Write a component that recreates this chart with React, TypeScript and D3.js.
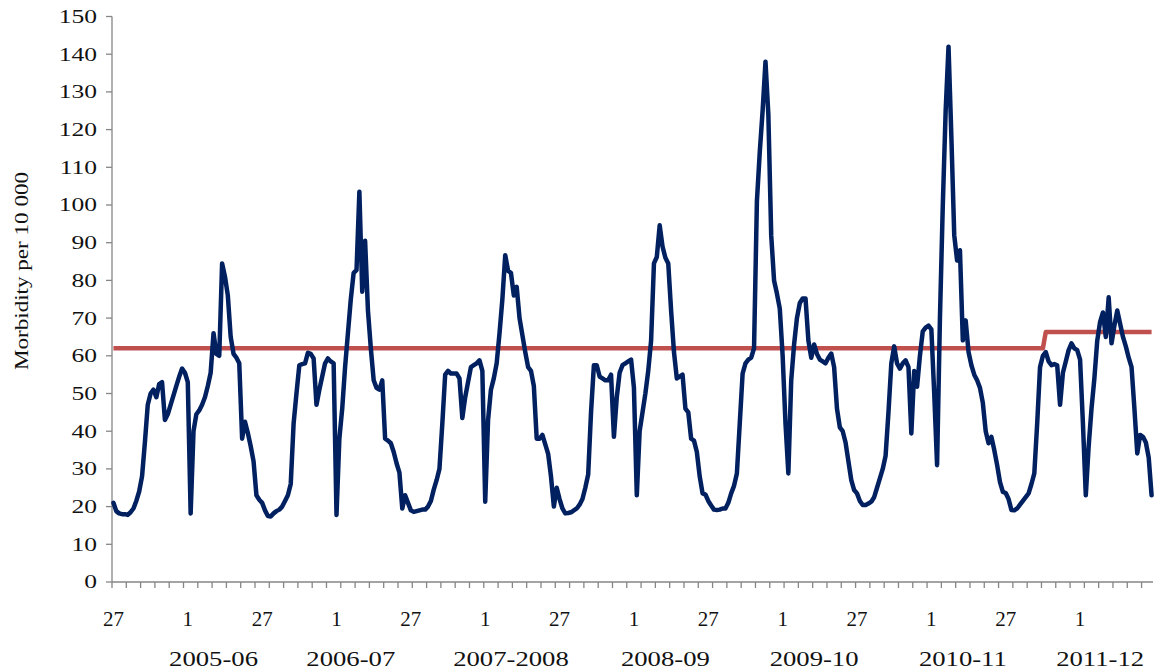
import React from 'react';
import * as d3 from 'd3';

// Weekly morbidity per 10 000 (week 27 of 2005 through week 26 of 2012)
const morbidity: number[] = [
  21, 18.8, 18.2, 18, 18, 17.8, 18.5, 19.5, 21.5, 24,
  28, 37, 47, 50, 51, 49, 52.5, 53, 43, 44.5,
  47, 49.5, 52, 54.5, 56.6, 55.5, 53, 18.2, 40, 44.5,
  45.5, 47, 49, 52, 55.5, 66, 60.5, 60, 84.5, 81,
  76, 65, 60.5, 59.5, 58, 38, 42.5, 39.5, 36, 32,
  23, 21.8, 21, 19, 17.5, 17.4, 18.2, 18.8, 19.2, 20,
  21.5, 23, 26, 42, 50, 57.5, 57.8, 58, 60.8, 60.5,
  59.3, 47, 51, 54.5, 58, 59.3, 58.5, 58, 17.8, 38,
  46, 57, 66, 75, 82, 82.7, 103.5, 77, 90.5, 72,
  62, 53.5, 51.5, 51, 53.5, 38, 37.5, 36.8, 34.5, 31.5,
  29, 19.5, 23, 21, 19, 18.6, 18.8, 19, 19.2, 19.2,
  20, 21.5, 24.5, 27, 30, 42, 55, 56, 55.3, 55.3,
  55.3, 54, 43.5, 49, 53, 57, 57.5, 58, 58.8, 56,
  21.3, 43, 51, 54, 58, 66, 75, 86.7, 82.5, 82,
  76, 78.3, 70, 65.5, 61, 57, 56, 52, 38, 38,
  39, 36.5, 34, 28, 20, 25, 22, 19.5, 18.2, 18.3,
  18.5, 19, 19.5, 20.5, 22, 25, 28.5, 45, 57.5, 57.5,
  54.5, 54, 53.5, 53.5, 55, 38.5, 49, 55.5, 57.5, 58,
  58.5, 59, 51.5, 23, 40, 45, 50, 56, 64, 84.5,
  86.2, 94.6, 89, 86, 84.5, 72, 61, 54, 54.5, 55,
  46, 45, 38, 37.5, 34.5, 28, 23.5, 23.2, 21.5, 20.3,
  19.2, 19.1, 19.2, 19.5, 19.5, 21, 23.5, 25.5, 28.8, 42,
  55.3, 58, 59, 59.5, 62, 101, 114, 125, 138, 124,
  92, 80, 76.5, 72.5, 60, 42, 28.8, 53.5, 63, 70,
  74, 75.2, 75.2, 64, 59.5, 63, 60.5, 59, 58.5, 58,
  59.5, 60.6, 57, 46, 41, 40, 37, 32, 27, 24.4,
  23.5, 21.5, 20.4, 20.4, 20.8, 21.3, 22.5, 25, 27.5, 30,
  33.5, 45, 58, 62.5, 58, 56.6, 58, 58.8, 57, 39.4,
  56, 51.8, 60, 66.5, 67.5, 68, 67, 50, 31, 70,
  100, 125, 142, 118, 92, 85.3, 88, 64.1, 69.4, 61,
  57.5, 55, 53.5, 51.5, 47.5, 40, 36.8, 38.5, 35, 31,
  26.5, 23.9, 23.6, 22, 19.1, 19, 19.5, 20.5, 21.5, 22.5,
  23.5, 26, 28.8, 42, 57, 60, 61, 58.5, 57.5, 57.8,
  57.5, 47, 55.5, 58.5, 61.5, 63.3, 62, 61.5, 59, 42,
  23, 36, 46, 54, 64, 69, 71.5, 65, 75.5, 63.3,
  68, 72, 68.5, 65, 62.5, 59.5, 57, 46, 34.1, 39,
  38.5, 37, 33, 23,
];

// Epidemic threshold: value applies from the given week index onward
const thresholdFromWeek: number[] = [0, 326];
const thresholdValues: number[] = [62, 66.3];

const yTicks: number[] = [0, 10, 20, 30, 40, 50, 60, 70, 80, 90, 100, 110, 120, 130, 140, 150];

// Week-number labels shown every 26 weeks on the category axis
const weekTickLabels: string[] = ['27', '1', '27', '1', '27', '1', '27', '1', '27', '1', '27', '1', '27', '1'];
const weekLabelInterval = 26;
const minorTickInterval = 5;

const seasonLabels: string[] = ['2005-06', '2006-07', '2007-2008', '2008-09', '2009-10', '2010-11', '2011-12'];
const seasonLabelWeek: number[] = [35, 83, 139, 193, 245, 297, 345];

const W = 1154;
const H = 672;
const FONT = '"Liberation Serif", "Times New Roman", serif';

export default function App() {
  const n = morbidity.length;
  const x = d3.scaleLinear().domain([0, n]).range([112, 1153]);
  const y = d3.scaleLinear().domain([0, 150]).range([582, 16.5]);
  const cx = (i: number) => x(i + 0.5);

  const line = d3
    .line<number>()
    .x((_, i) => cx(i))
    .y((d) => y(d));

  const threshold = morbidity.map((_, i) => {
    let v = thresholdValues[0];
    thresholdFromWeek.forEach((w, k) => {
      if (i >= w) v = thresholdValues[k];
    });
    return v;
  });

  const minorTicks = d3.range(0, n + 1, minorTickInterval);

  return (
    <svg
      width={W}
      height={H}
      style={{ position: 'absolute', left: 0, top: 0, background: '#fff' }}
      fontFamily={FONT}
    >
      {/* y axis */}
      <line x1={112} x2={112} y1={y(150)} y2={y(0)} stroke="#868686" strokeWidth={1.3} />
      {yTicks.map((t) => (
        <g key={t}>
          <line x1={106} x2={112} y1={y(t)} y2={y(t)} stroke="#868686" strokeWidth={1.3} />
          <text
            transform={`translate(97, ${y(t)}) scale(1.38, 1)`}
            dy="0.35em"
            textAnchor="end"
            fontSize={18.5}
            fill="#111"
          >
            {t}
          </text>
        </g>
      ))}
      <text
        transform={`translate(28, ${271}) rotate(-90)`}
        textAnchor="middle"
        fontSize={18.5}
        textLength={198}
        lengthAdjust="spacingAndGlyphs"
        fill="#111"
      >
        Morbidity per 10 000
      </text>

      {/* x axis */}
      <line x1={112} x2={1153} y1={y(0)} y2={y(0)} stroke="#868686" strokeWidth={1.3} />
      {minorTicks.map((t) => (
        <line key={t} x1={x(t)} x2={x(t)} y1={y(0)} y2={y(0) + 6} stroke="#868686" strokeWidth={1.3} />
      ))}
      {weekTickLabels.map((lab, k) => (
        <text key={k} x={cx(k * weekLabelInterval)} y={626} textAnchor="middle" fontSize={21} fill="#111">
          {lab}
        </text>
      ))}
      {seasonLabels.map((lab, k) => (
        <text
          key={lab}
          transform={`translate(${cx(seasonLabelWeek[k])}, 666) scale(1.27, 1)`}
          textAnchor="middle"
          fontSize={21}
          fill="#111"
        >
          {lab}
        </text>
      ))}

      {/* threshold */}
      <path d={line(threshold) || ''} fill="none" stroke="#C0504D" strokeWidth={4.5} strokeLinejoin="round" />
      {/* morbidity series */}
      <path d={line(morbidity) || ''} fill="none" stroke="#002060" strokeWidth={4.5} strokeLinejoin="round" strokeLinecap="round" />
    </svg>
  );
}
